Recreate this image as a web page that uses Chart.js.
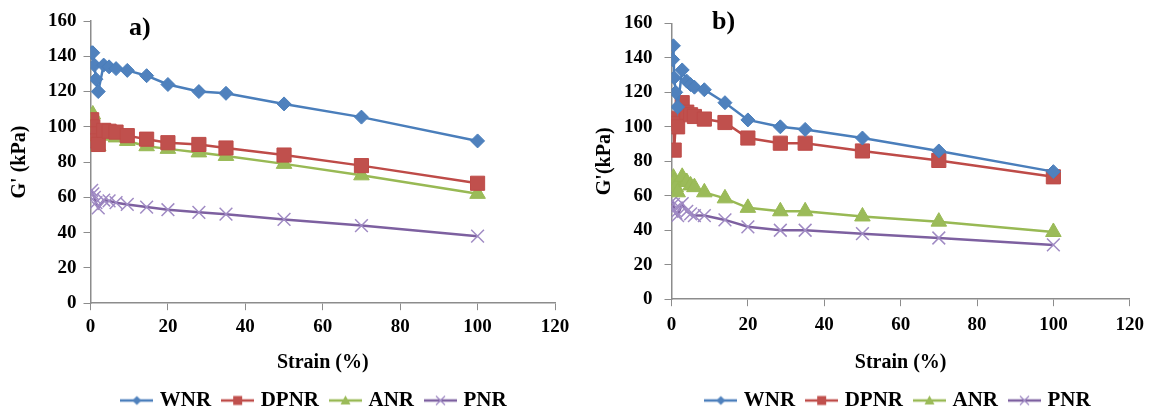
<!DOCTYPE html>
<html>
<head>
<meta charset="utf-8">
<script src="https://cdn.jsdelivr.net/npm/chart.js@4.4.1/dist/chart.umd.min.js"></script>
<style>
  body { margin: 0; background: #fff; overflow: hidden; }
  .box { position: absolute; top: 0; width: 575px; height: 421px; }
  .tag { position: absolute; font: bold 26px 'Liberation Serif', 'Times New Roman', serif; color: #000; }
</style>
</head>
<body>
<div class="box" style="left:0"><canvas id="chartA"></canvas></div>
<div class="box" style="left:576px"><canvas id="chartB"></canvas></div>
<div class="tag" style="left:129px; top:12px">a)</div>
<div class="tag" style="left:712px; top:6px">b)</div>
<script>
// datos (a)
const strainA = [0.3, 0.6, 1, 1.4, 2, 3.4, 4.8, 6.6, 9.5, 14.5, 20, 28, 35, 50, 70, 100];
const wnrA  = [142, 142, 135, 127, 120, 135, 134, 133, 132, 129, 124, 120, 119, 113, 105.5, 92];
const dpnrA = [104, 100, 96, 92, 90, 98, 97.5, 97, 95, 93, 91, 90, 88, 84, 78, 68];
const anrA  = [104, 107, 100, 94, 89, 96, 95, 94, 92, 89, 87.5, 85.5, 83.5, 79, 72.5, 62];
const pnrA  = [64, 62, 60, 57, 54, 58.5, 58, 57, 56, 54.5, 53, 51.5, 50.5, 47.5, 44, 38];

// datos (b)
const strainB = [0.3, 0.5, 0.7, 1.1, 1.6, 2.8, 4, 5, 6, 8.6, 14, 20, 28.5, 35, 50, 70, 100];
const wnrB  = [139, 147, 128.5, 120, 111.5, 133, 126.5, 124.5, 123, 121.5, 114, 104, 100, 98.5, 93.5, 86, 74];
const dpnrB = [104, 105, 86.5, 102, 100, 114, 108.5, 107, 106, 104.5, 102.5, 93.5, 90.5, 90.5, 86, 80.5, 71];
const anrB  = [66, 70.5, 68, 65, 62, 71, 68, 66, 65, 62, 58.5, 53, 51, 51, 48, 45, 39];
const pnrB  = [57, 55, 52, 50, 48.5, 55.5, 51, 49.5, 48.5, 48.5, 46, 42, 40, 40, 38, 35.5, 31.5];

const xTicks = [0, 20, 40, 60, 80, 100, 120];
const yTicks = [0, 20, 40, 60, 80, 100, 120, 140, 160];

const seriesNames = ['WNR', 'DPNR', 'ANR', 'PNR'];
const lineColors = ['#4A7EBB', '#BE4B48', '#98B954', '#7D60A0'];
const fillColors = ['#4F81BD', '#C0504D', '#9BBB59', '#A08BC4'];
const markers = ['rectRot', 'rect', 'triangle', 'crossRot'];
const radii = [7, 10, 9, 9];

const serif = "'Liberation Serif', 'Times New Roman', serif";
const axisGray = '#8C8C8C';

function pairs(xs, ys) {
  return xs.map((x, i) => ({ x: x, y: ys[i] }));
}

// imagen de leyenda: linea con marcador
function legendIcon(i) {
  const c = document.createElement('canvas');
  c.width = 33; c.height = 16;
  const g = c.getContext('2d');
  g.strokeStyle = lineColors[i];
  g.lineWidth = 2.5;
  g.beginPath(); g.moveTo(0, 8); g.lineTo(33, 8); g.stroke();
  g.fillStyle = fillColors[i];
  g.strokeStyle = fillColors[i];
  if (i === 0) {
    g.beginPath(); g.moveTo(16.5, 3.5); g.lineTo(21, 8); g.lineTo(16.5, 12.5); g.lineTo(12, 8); g.closePath(); g.fill();
  } else if (i === 1) {
    g.fillRect(12, 3.5, 9, 9);
  } else if (i === 2) {
    g.beginPath(); g.moveTo(16.5, 3); g.lineTo(21.5, 12); g.lineTo(11.5, 12); g.closePath(); g.fill();
  } else {
    g.lineWidth = 1.2;
    g.beginPath(); g.moveTo(12, 3.5); g.lineTo(21, 12.5); g.moveTo(21, 3.5); g.lineTo(12, 12.5); g.stroke();
  }
  return c;
}
const icons = seriesNames.map((n, i) => legendIcon(i));

// mueve la leyenda para centrarla como en la figura
const shiftLegend = {
  id: 'shiftLegend',
  afterLayout(chart, args, opts) {
    chart.legend.left += opts.dx;
    chart.legend.right += opts.dx;
  }
};

function makeChart(id, strain, sets, yTitle, cfg) {
  new Chart(document.getElementById(id), {
    type: 'line',
    data: {
      datasets: sets.map((ys, i) => ({
        label: seriesNames[i],
        data: pairs(strain, ys),
        borderColor: lineColors[i],
        backgroundColor: fillColors[i],
        pointBackgroundColor: fillColors[i],
        pointBorderColor: i === 3 ? fillColors[i] : lineColors[i],
        pointBorderWidth: i === 3 ? 1.5 : 1,
        pointStyle: markers[i],
        pointRadius: radii[i],
        borderWidth: 2.5,
        tension: 0
      }))
    },
    plugins: [shiftLegend],
    options: {
      responsive: true,
      maintainAspectRatio: false,
      animation: false,
      layout: { padding: { left: cfg.left, right: cfg.right, top: cfg.top, bottom: 0 } },
      plugins: {
        tooltip: { enabled: false },
        shiftLegend: { dx: cfg.dx },
        legend: {
          position: 'bottom',
          labels: {
            usePointStyle: true,
            pointStyleWidth: 25,
            padding: 14,
            color: '#000',
            font: { family: serif, size: 21, weight: 'bold' },
            generateLabels: chart => chart.data.datasets.map((d, i) => ({
              text: d.label,
              pointStyle: icons[i],
              fillStyle: fillColors[i],
              strokeStyle: lineColors[i],
              lineWidth: 0,
              datasetIndex: i,
              fontColor: '#000'
            }))
          }
        }
      },
      scales: {
        x: {
          type: 'linear',
          min: 0, max: 120,
          afterBuildTicks: axis => { axis.ticks = xTicks.map(v => ({ value: v })); },
          border: { color: axisGray, width: 1.5 },
          grid: { drawOnChartArea: false, color: axisGray, tickLength: 7 },
          ticks: { color: '#000', font: { family: serif, size: 19, weight: 'bold' }, padding: cfg.xPad },
          title: { display: true, text: 'Strain (%)', color: '#000', font: { family: serif, size: 20, weight: 'bold' }, padding: { top: 8, bottom: 1 } }
        },
        y: {
          min: 0, max: 160,
          afterBuildTicks: axis => { axis.ticks = yTicks.map(v => ({ value: v })); },
          border: { color: axisGray, width: 1.5 },
          grid: { drawOnChartArea: false, color: axisGray, tickLength: 7 },
          ticks: { color: '#000', font: { family: serif, size: 19, weight: 'bold' }, padding: cfg.yPad },
          title: { display: true, text: yTitle, color: '#000', font: { family: serif, size: 20, weight: 'bold' }, padding: { top: cfg.tTop, bottom: cfg.tBottom } }
        }
      }
    }
  });
}

makeChart('chartA', strainA, [wnrA, dpnrA, anrA, pnrA], "G' (kPa)",
  { left: 0, right: 20, top: 21, xPad: 5, yPad: 7, tTop: 8, tBottom: 9, dx: 38 });
makeChart('chartB', strainB, [wnrB, dpnrB, anrB, pnrB], "G'(kPa)",
  { left: 10, right: 18, top: 18, xPad: 7, yPad: 12, tTop: 7, tBottom: -5, dx: 40 });
</script>
</body>
</html>
